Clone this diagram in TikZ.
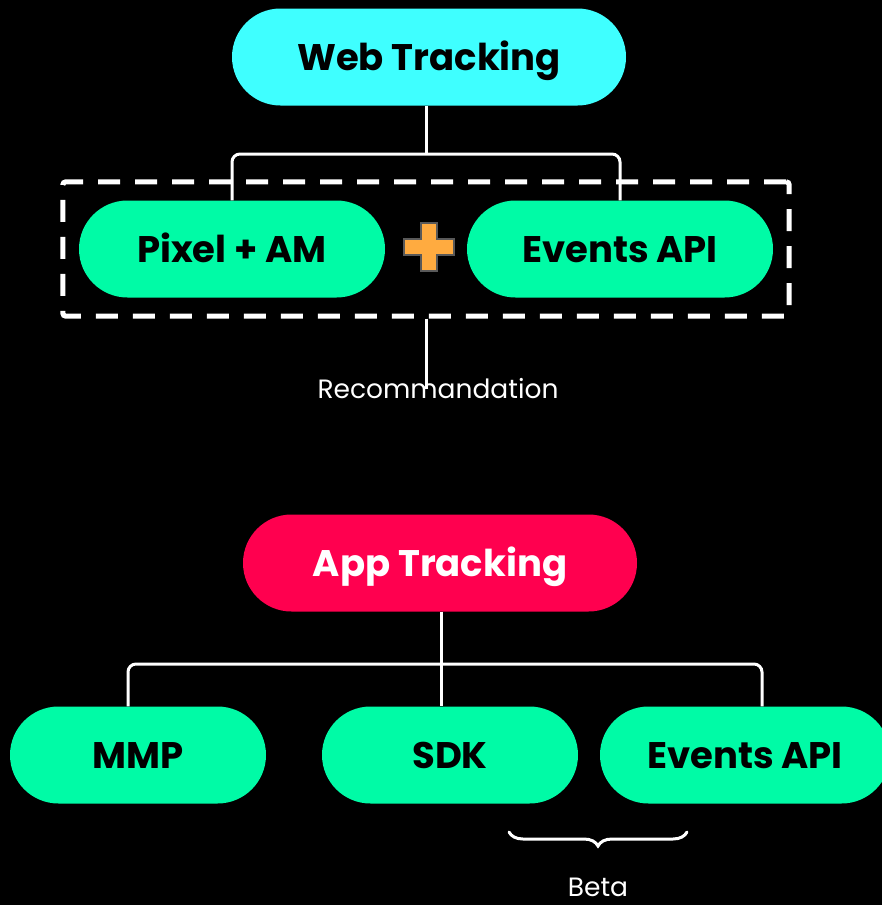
\documentclass[tikz,border=0pt]{standalone}
\usepackage{fontspec}
\setmainfont{Poppins}
\usetikzlibrary{shapes.misc,fit,decorations.pathreplacing}
\definecolor{webcyan}{HTML}{3FFFFF}
\definecolor{appred}{HTML}{FF004F}
\definecolor{leafgreen}{HTML}{00FBA6}
\definecolor{plusorange}{HTML}{FFAB40}
\tikzstyle{pill}=[rounded rectangle, fill=leafgreen, text=black, font=\fontsize{37}{44}\selectfont\bfseries, minimum height=97pt, inner sep=0pt, text height=26pt, text depth=0pt]
\tikzstyle{link}=[draw=white, line width=3pt, rounded corners=8pt]
\tikzstyle{note}=[text=white, font=\fontsize{26.5}{32}\selectfont, inner sep=0pt]

\begin{document}
\begin{tikzpicture}[x=1pt, y=-1pt]
\useasboundingbox [fill=black] (0,0) rectangle (882,905);

% web tracking
\node (web) [pill, fill=webcyan, minimum width=394pt] at (429,57) {Web Tracking};
\node (pixel) [pill, minimum width=306pt] at (232,249) {Pixel + AM};
\node (webapi) [pill, minimum width=306pt] at (620,249) {Events API};
\node (recbox) [fit=(pixel)(webapi), inner xsep=16pt, inner ysep=18.5pt, draw=white, line width=5pt, dash pattern=on 22pt off 15pt, rounded corners=3pt] {};
\node (rec) [note] at (438,389) {Recommandation};
\coordinate (webjoin) at (426,154);

\draw [link] (web.south -| webjoin) -- (webjoin);
\draw [link] (pixel.north) |- (webjoin) -| (webapi.north);
\draw [link] (recbox.south -| webjoin) -- ([yshift=-10pt]rec.north -| webjoin);

% plus sign
\draw [fill=plusorange, draw=black!65, line width=1.5pt]
  (421,223) -- (437,223) -- (437,239) -- (454,239) -- (454,255) -- (437,255)
  -- (437,271) -- (421,271) -- (421,255) -- (404,255) -- (404,239) -- (421,239) -- cycle;

% app tracking
\node (app) [pill, fill=appred, text=white, minimum width=394pt] at (440,563) {App Tracking};
\node (mmp) [pill, minimum width=256pt] at (138,755) {MMP};
\node (sdk) [pill, minimum width=256pt] at (450,755) {SDK};
\node (appapi) [pill, minimum width=290pt] at (745,755) {Events API};
\coordinate (appjoin) at (441,664);

\draw [link] (app.south -| appjoin) -- (sdk.north -| appjoin);
\draw [link] ([xshift=-10pt]mmp.north) |- (appjoin) -| ([xshift=17pt]appapi.north);

% beta brace
\coordinate (bracel) at (509,832);
\coordinate (bracer) at (687,832);
\node (beta) [note, anchor=base] at (598,896) {Beta};
\draw [draw=white, line width=3pt, line cap=round, decorate, decoration={brace, amplitude=14pt, mirror}] (bracel) -- (bracer);

\end{tikzpicture}
\end{document}
